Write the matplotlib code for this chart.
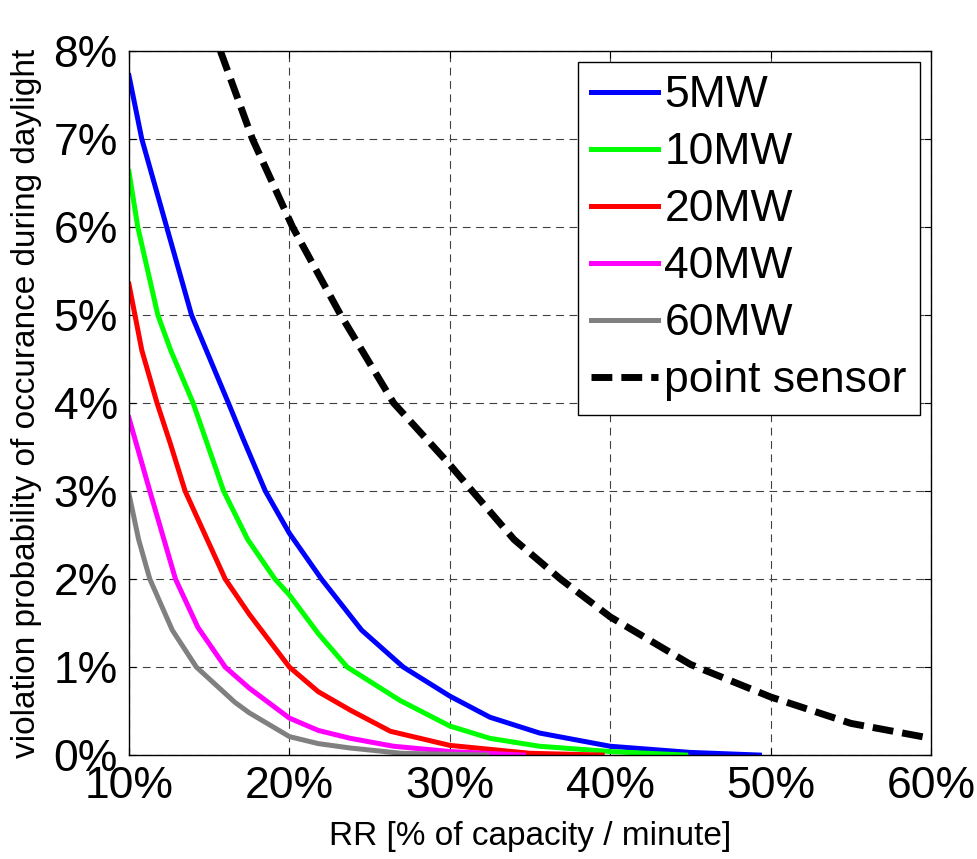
import matplotlib
matplotlib.use("Agg")
import matplotlib.pyplot as plt
from matplotlib.ticker import FuncFormatter

plt.rcParams['font.family'] = ['Liberation Sans', 'DejaVu Sans']

# values (x: RR in %, y: probability in %)
blue_x = [10, 10.8, 12.35, 13.9, 15.05, 16.2, 17.1, 18.5, 20, 22.0, 24.5, 27.1, 30, 32.5, 35.6, 40, 45, 49.3]
blue_y = [7.72, 7.0, 6.0, 5.0, 4.5, 4.0, 3.6, 3.0, 2.52, 2.0, 1.42, 1.0, 0.67, 0.43, 0.25, 0.1, 0.03, 0.0]

green_x = [10, 10.55, 11.8, 12.6, 14.0, 15.9, 17.4, 19.1, 20, 21.8, 23.6, 26.9, 30, 32.5, 35.6, 40, 44.7]
green_y = [6.63, 6.0, 5.0, 4.6, 4.0, 3.0, 2.45, 2.0, 1.82, 1.38, 1.0, 0.62, 0.33, 0.19, 0.1, 0.04, 0.0]

red_x = [10, 10.8, 11.75, 12.56, 13.5, 16.0, 17.5, 20, 21.8, 23.8, 26.3, 30, 35, 39.5]
red_y = [5.35, 4.6, 4.0, 3.55, 3.0, 2.0, 1.6, 1.0, 0.72, 0.51, 0.27, 0.11, 0.02, 0.0]

magenta_x = [10, 11.3, 12.9, 14.3, 16.0, 17.5, 20, 21.8, 23.8, 26.5, 30, 34.6]
magenta_y = [3.83, 3.0, 2.0, 1.45, 1.0, 0.76, 0.42, 0.28, 0.19, 0.1, 0.04, 0.0]

grey_x = [10, 10.6, 11.3, 12.7, 14.2, 16.6, 17.5, 20, 21.8, 23.8, 27, 32.3]
grey_y = [2.97, 2.45, 2.0, 1.42, 1.0, 0.6, 0.48, 0.21, 0.13, 0.08, 0.02, 0.0]

sensor_x = [15.7, 17.7, 20.2, 23.2, 26.5, 29.9, 31.4, 34.0, 36.9, 40, 45, 50, 55, 60]
sensor_y = [8.0, 7.0, 6.0, 5.0, 4.0, 3.32, 3.0, 2.45, 2.0, 1.57, 1.03, 0.66, 0.36, 0.19]

fig = plt.figure(figsize=(9.77, 8.59), dpi=100)
ax = fig.add_axes([0.132, 0.121, 0.821, 0.8196])

ax.plot(blue_x, blue_y, color='#0000ff', lw=3.6, label='5MW')
ax.plot(green_x, green_y, color='#00ff00', lw=3.6, label='10MW')
ax.plot(red_x, red_y, color='#ff0000', lw=3.6, label='20MW')
ax.plot(magenta_x, magenta_y, color='#ff00ff', lw=3.6, label='40MW')
ax.plot(grey_x, grey_y, color='#808080', lw=3.6, label='60MW')
ax.plot(sensor_x, sensor_y, color='black', lw=5, dashes=(3, 1.3), label='point sensor')

ax.set_xlim(10, 60)
ax.set_ylim(0, 8)
ax.set_xticks([10, 20, 30, 40, 50, 60])
ax.set_yticks(range(0, 9))
pct = FuncFormatter(lambda v, p: f"{v:.0f}%")
ax.xaxis.set_major_formatter(pct)
ax.yaxis.set_major_formatter(pct)
ax.tick_params(direction='in', top=True, right=True, length=5, labelsize=32, pad=8)

ax.grid(True, color='#404040', lw=0.8, linestyle=(0, (7, 5)))
for s in ax.spines.values():
    s.set_linewidth(1.0)

ax.set_xlabel('RR [% of capacity / minute]', fontsize=24, labelpad=10)
ax.set_ylabel('violation probability of occurance during daylight', fontsize=24, labelpad=8)

leg = ax.legend(loc='upper right', fontsize=32, fancybox=False, framealpha=1,
                edgecolor='black', borderaxespad=0.25, handlelength=1.5,
                handletextpad=0.15, labelspacing=0.36, borderpad=0.3)
leg.get_frame().set_linewidth(1.0)

fig.savefig('out.png', dpi=100)
